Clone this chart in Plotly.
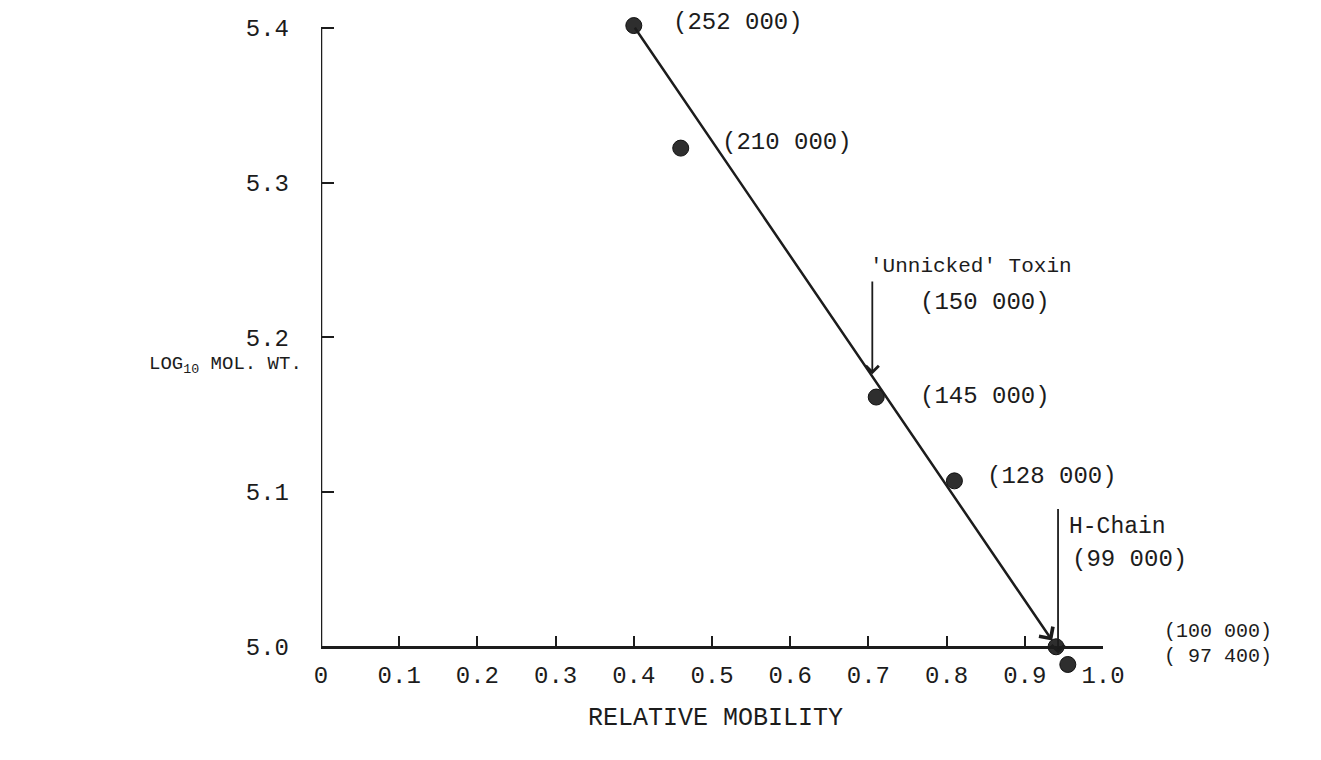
import numpy as np
import plotly.graph_objects as go

# Molecular weight standards: relative mobility vs. molecular weight
mobility = [0.40, 0.46, 0.71, 0.81, 0.94, 0.955]
mol_wt = [252000, 210000, 145000, 128000, 100000, 97400]
mw_labels = ["(252 000)", "(210 000)", "(145 000)", "(128 000)"]

# Fitted calibration line (drawn as an arrow towards the low-MW end)
fit_x = [0.40, 0.935]
fit_y = [5.401, 5.004]

# Marked species
toxin_mobility = 0.705
toxin_mw = 150000
hchain_mobility = 0.9425
hchain_mw = 99000

# Axis ticks
x_ticks = [0, 0.1, 0.2, 0.3, 0.4, 0.5, 0.6, 0.7, 0.8, 0.9, 1.0]
x_ticktext = ["0", "0.1", "0.2", "0.3", "0.4", "0.5", "0.6", "0.7", "0.8", "0.9", "1.0"]
y_ticks = [5.0, 5.1, 5.2, 5.3, 5.4]
y_ticktext = ["5.0", "5.1", "5.2", "5.3", "5.4"]

# Visible axis extents and the slightly wider plotting range around them
X_RANGE = [0.0, 1.0]
Y_AXIS = [5.0, 5.4]
Y_RANGE = [4.985, 5.405]

log_mw = np.log10(mol_wt)

FONT = "Liberation Mono"
INK = "#1c1c1c"

fig = go.Figure()

fig.add_trace(go.Scatter(
    x=mobility, y=log_mw, mode="markers",
    marker=dict(size=16, color="#2e2e2e", line=dict(width=1, color="#111111")),
    cliponaxis=False, showlegend=False, hoverinfo="skip",
))

annotations = []

# calibration line with arrowhead at the bottom end
annotations.append(dict(
    x=fit_x[1], y=fit_y[1], ax=fit_x[0], ay=fit_y[0],
    xref="x", yref="y", axref="x", ayref="y",
    showarrow=True, arrowhead=4, arrowsize=1.3, arrowwidth=2.5,
    arrowcolor=INK, text="", standoff=0, startstandoff=0,
))

# 'Unnicked' toxin arrow
annotations.append(dict(
    x=toxin_mobility, y=np.log10(toxin_mw), ax=toxin_mobility, ay=5.237,
    xref="x", yref="y", axref="x", ayref="y",
    showarrow=True, arrowhead=4, arrowsize=1.4, arrowwidth=1.8,
    arrowcolor=INK, text="", standoff=0,
))

# H-chain arrow
annotations.append(dict(
    x=hchain_mobility, y=np.log10(hchain_mw), ax=hchain_mobility, ay=5.09,
    xref="x", yref="y", axref="x", ayref="y",
    showarrow=True, arrowhead=4, arrowsize=1.4, arrowwidth=1.8,
    arrowcolor=INK, text="", standoff=0,
))

# point labels
label_shift = [(37, 3), (39, 6), (42, 1), (31, 4)]
for xv, yv, txt, (dx, dy) in zip(mobility[:4], log_mw[:4], mw_labels, label_shift):
    annotations.append(dict(
        x=xv, y=yv, xref="x", yref="y", text=txt, showarrow=False,
        xanchor="left", yanchor="middle", xshift=dx, yshift=dy,
        font=dict(family=FONT, size=24, color=INK),
    ))

text_notes = [
    (0.6995, 5.2456, "'Unnicked' Toxin", 21),
    (0.7634, 5.2223, "(150 000)", 24),
    (0.954, 5.0775, "H-Chain", 23),
    (0.958, 5.0562, "(99 000)", 24),
]
for xv, yv, txt, sz in text_notes:
    annotations.append(dict(
        x=xv, y=yv, xref="x", yref="y", text=txt, showarrow=False,
        xanchor="left", yanchor="middle",
        font=dict(family=FONT, size=sz, color=INK),
    ))

# labels for the two bands at the end of the axis (beyond x = 1.0)
for yv, txt in [(5.0097, "(100 000)"), (4.9940, "( 97 400)")]:
    annotations.append(dict(
        x=1.075, y=yv, xref="paper", yref="y", text=txt, showarrow=False,
        xanchor="left", yanchor="middle",
        font=dict(family=FONT, size=20, color=INK),
    ))

# axis titles
annotations.append(dict(
    x=-0.222, y=5.182, xref="paper", yref="y",
    text="LOG<sub>10</sub> MOL. WT.", showarrow=False,
    xanchor="left", yanchor="middle",
    font=dict(family=FONT, size=19, color=INK),
))
annotations.append(dict(
    x=0.505, y=-0.075, xref="paper", yref="paper",
    text="RELATIVE MOBILITY", showarrow=False,
    xanchor="center", yanchor="middle",
    font=dict(family=FONT, size=25, color=INK),
))

# vertical axis line covering only the labelled span
shapes = [dict(
    type="line", xref="x", yref="y",
    x0=X_RANGE[0], x1=X_RANGE[0], y0=Y_AXIS[0], y1=Y_AXIS[1],
    line=dict(color=INK, width=2.5),
)]

# horizontal axis sits at y = 5.0 inside the wider plotting range
x_axis_pos = (Y_AXIS[0] - Y_RANGE[0]) / (Y_RANGE[1] - Y_RANGE[0])

fig.update_layout(
    width=1321, height=760,
    margin=dict(l=321, r=218, t=20, b=90),
    paper_bgcolor="white", plot_bgcolor="white",
    showlegend=False,
    annotations=annotations,
    shapes=shapes,
    xaxis=dict(
        range=X_RANGE, tickmode="array", tickvals=x_ticks, ticktext=x_ticktext,
        anchor="free", position=x_axis_pos,
        showgrid=False, zeroline=False, showline=True, linecolor=INK, linewidth=2.5,
        ticks="inside", ticklen=10, tickwidth=2, tickcolor=INK,
        tickfont=dict(family=FONT, size=24, color=INK), ticklabelstandoff=6,
    ),
    yaxis=dict(
        range=Y_RANGE, tickmode="array", tickvals=y_ticks, ticktext=y_ticktext,
        showgrid=False, zeroline=False, showline=False,
        ticks="inside", ticklen=13, tickwidth=2, tickcolor=INK,
        tickfont=dict(family=FONT, size=24, color=INK), ticklabelstandoff=31,
    ),
)

fig.write_html("out.html")
